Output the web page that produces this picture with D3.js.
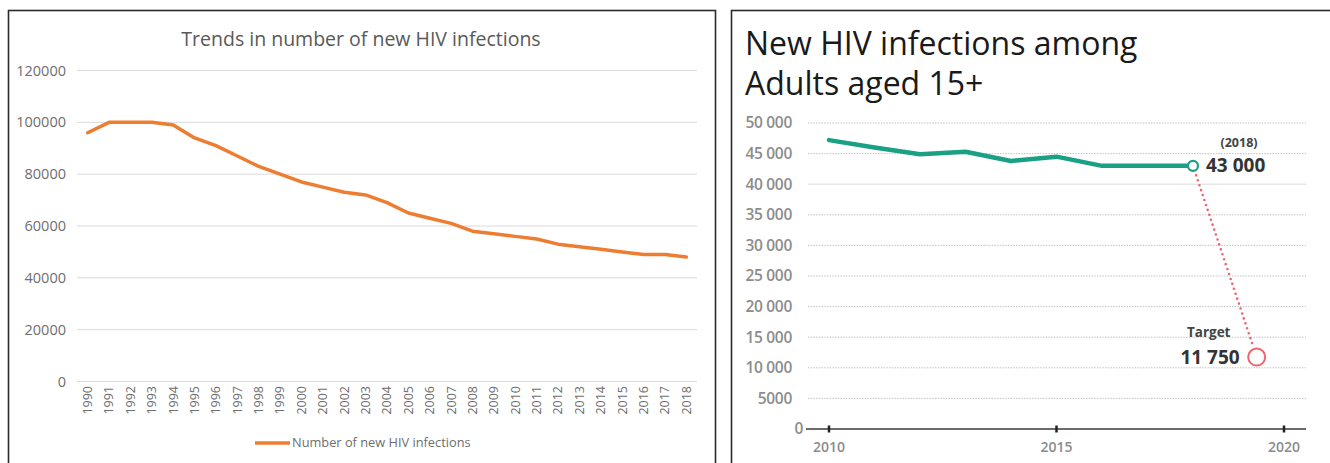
<!DOCTYPE html>
<html>
<head>
<meta charset="utf-8">
<script src="https://cdn.jsdelivr.net/npm/d3@7"></script>
<style>
  html, body { margin: 0; padding: 0; background: #fff; }
  svg { display: block; }
</style>
</head>
<body>
<svg id="chart" width="1330" height="463"></svg>
<script>
// Left panel: new HIV infections per year, 1990-2018
const years = [1990, 1991, 1992, 1993, 1994, 1995, 1996, 1997, 1998, 1999,
               2000, 2001, 2002, 2003, 2004, 2005, 2006, 2007, 2008, 2009,
               2010, 2011, 2012, 2013, 2014, 2015, 2016, 2017, 2018];
const newInfections = [96000, 100000, 100000, 100000, 99000, 94000, 91000, 87000, 83000, 80000,
                       77000, 75000, 73000, 72000, 69000, 65000, 63000, 61000, 58000, 57000,
                       56000, 55000, 53000, 52000, 51000, 50000, 49000, 49000, 48000];
const leftTicks = [0, 20000, 40000, 60000, 80000, 100000, 120000];

// Right panel: new infections among adults aged 15+, 2010-2018, and the target
const adultYears = [2010, 2011, 2012, 2013, 2014, 2015, 2016, 2017, 2018];
const adultInfections = [47200, 46000, 44900, 45300, 43800, 44500, 43000, 43000, 43000];
const targetYear = 2019.4;
const targetValue = 11750;
const rightTicks = [0, 5000, 10000, 15000, 20000, 25000, 30000, 35000, 40000, 45000, 50000];
const rightYearTicks = [2010, 2015, 2020];

const svg = d3.select("#chart");
svg.append("rect").attr("width", 1330).attr("height", 463).attr("fill", "#fff");

// ---------- Left panel ----------
const L = svg.append("g");
L.append("rect")
  .attr("x", 8.5).attr("y", 10.5).attr("width", 707).attr("height", 480)
  .attr("fill", "none").attr("stroke", "#2b2b2b").attr("stroke-width", 1.6);

const xL = d3.scaleBand().domain(years).range([77, 697]);
const yL = d3.scaleLinear().domain([0, 120000]).range([381.5, 70.5]);
const cx = d => xL(d) + xL.bandwidth() / 2;

L.append("text")
  .attr("x", 361).attr("y", 46)
  .attr("text-anchor", "middle")
  .attr("font-family", "'Open Sans', sans-serif")
  .attr("font-size", 19.5)
  .attr("fill", "#595959")
  .text("Trends in number of new HIV infections");

L.append("g").selectAll("line").data(leftTicks).join("line")
  .attr("x1", 77).attr("x2", 697)
  .attr("y1", d => yL(d)).attr("y2", d => yL(d))
  .attr("stroke", "#d9d9d9").attr("stroke-width", 1);

L.append("g").selectAll("text").data(leftTicks).join("text")
  .attr("x", 66).attr("y", d => yL(d))
  .attr("dy", "0.35em")
  .attr("text-anchor", "end")
  .attr("font-family", "'Open Sans', sans-serif")
  .attr("font-size", 14.5)
  .attr("fill", "#6e6e6e")
  .text(d => d);

L.append("g").selectAll("text").data(years).join("text")
  .attr("transform", d => `translate(${cx(d)},386) rotate(-90)`)
  .attr("dy", "0.35em")
  .attr("text-anchor", "end")
  .attr("font-family", "'Open Sans', sans-serif")
  .attr("font-size", 12.5)
  .attr("fill", "#6e6e6e")
  .text(d => d);

const leftLine = d3.line().x((d, i) => cx(years[i])).y(d => yL(d));
L.append("path")
  .datum(newInfections)
  .attr("d", leftLine)
  .attr("fill", "none")
  .attr("stroke", "#ED7D31")
  .attr("stroke-width", 3.5)
  .attr("stroke-linejoin", "round")
  .attr("stroke-linecap", "round");

// legend
L.append("line")
  .attr("x1", 255).attr("x2", 290).attr("y1", 443).attr("y2", 443)
  .attr("stroke", "#ED7D31").attr("stroke-width", 3.5);
L.append("text")
  .attr("x", 292).attr("y", 443).attr("dy", "0.35em")
  .attr("font-family", "'Open Sans', sans-serif")
  .attr("font-size", 12.8)
  .attr("fill", "#6e6e6e")
  .text("Number of new HIV infections");

// ---------- Right panel ----------
const R = svg.append("g");
R.append("rect")
  .attr("x", 731.5).attr("y", 10.5).attr("width", 640).attr("height", 480)
  .attr("fill", "none").attr("stroke", "#2b2b2b").attr("stroke-width", 1.6);

const titleLines = ["New HIV infections among", "Adults aged 15+"];
R.append("g").selectAll("text").data(titleLines).join("text")
  .attr("x", 745).attr("y", (d, i) => 55 + i * 40)
  .attr("font-family", "'Open Sans', sans-serif")
  .attr("font-size", 32)
  .attr("fill", "#1a1a1a")
  .text(d => d);

const xR = d3.scaleLinear().domain([2010, 2020]).range([829, 1284]);
const yR = d3.scaleLinear().domain([0, 50000]).range([429, 123]);

const spaced = d3.formatLocale({ decimal: ".", thousands: " ", grouping: [3], currency: ["", ""] }).format(",");
const yLabel = d => d >= 10000 ? spaced(d) : String(d);

// grid
R.append("g").selectAll("line").data(rightTicks.filter(d => d > 0)).join("line")
  .attr("x1", 808).attr("x2", 1306)
  .attr("y1", d => yR(d)).attr("y2", d => yR(d))
  .attr("stroke", d => d === 40000 ? "#e6e6e6" : "#c2c2c2")
  .attr("stroke-width", d => d === 40000 ? 1.6 : 1)
  .attr("stroke-dasharray", d => d === 40000 ? null : "1.5,1.2");

R.append("g").selectAll("text").data(rightTicks).join("text")
  .attr("x", d => d === 0 ? 803 : 792)
  .attr("y", d => yR(d))
  .attr("dy", "0.35em")
  .attr("text-anchor", "end")
  .attr("font-family", "'Open Sans', sans-serif")
  .attr("font-size", 15.5)
  .attr("font-weight", 600)
  .attr("letter-spacing", -0.3)
  .attr("fill", "#8c8c8c")
  .text(yLabel);

// x axis
R.append("line")
  .attr("x1", 806).attr("x2", 1306).attr("y1", yR(0)).attr("y2", yR(0))
  .attr("stroke", "#3a3a3a").attr("stroke-width", 1.5);
R.append("g").selectAll("line").data(rightYearTicks).join("line")
  .attr("x1", d => xR(d)).attr("x2", d => xR(d))
  .attr("y1", yR(0) - 3.5).attr("y2", yR(0) + 3.5)
  .attr("stroke", "#222").attr("stroke-width", 2.5);
R.append("g").selectAll("text").data(rightYearTicks).join("text")
  .attr("x", d => xR(d)).attr("y", 447).attr("dy", "0.35em")
  .attr("text-anchor", "middle")
  .attr("font-family", "'Open Sans', sans-serif")
  .attr("font-size", 14)
  .attr("font-weight", 600)
  .attr("fill", "#8c8c8c")
  .text(d => d);

const green = "#1aa085";
const red = "#ec6671";

const rightLine = d3.line().x((d, i) => xR(adultYears[i])).y(d => yR(d));
R.append("path")
  .datum(adultInfections)
  .attr("d", rightLine)
  .attr("fill", "none")
  .attr("stroke", green)
  .attr("stroke-width", 4.5)
  .attr("stroke-linejoin", "round")
  .attr("stroke-linecap", "round");

// dotted projection from the last value to the target
const lastYear = adultYears[adultYears.length - 1];
const lastValue = adultInfections[adultInfections.length - 1];
const p0 = [xR(lastYear), yR(lastValue)];
const p1 = [xR(targetYear), yR(targetValue)];
const len = Math.hypot(p1[0] - p0[0], p1[1] - p0[1]);
const ux = (p1[0] - p0[0]) / len, uy = (p1[1] - p0[1]) / len;
const r0 = 5, r1 = 8.5;
R.append("line")
  .attr("x1", p0[0] + ux * (r0 + 5)).attr("y1", p0[1] + uy * (r0 + 5))
  .attr("x2", p1[0] - ux * (r1 + 3)).attr("y2", p1[1] - uy * (r1 + 3))
  .attr("stroke", red).attr("stroke-width", 2.6)
  .attr("stroke-linecap", "round")
  .attr("stroke-dasharray", "0,5.2");

R.append("circle")
  .attr("cx", p0[0]).attr("cy", p0[1]).attr("r", r0)
  .attr("fill", "#fff").attr("stroke", green).attr("stroke-width", 2.2);
R.append("circle")
  .attr("cx", p1[0]).attr("cy", p1[1]).attr("r", r1)
  .attr("fill", "#fff").attr("stroke", red).attr("stroke-width", 2);

// annotations
R.append("text")
  .attr("x", p0[0] + 46).attr("y", 147)
  .attr("text-anchor", "middle")
  .attr("font-family", "'Open Sans', sans-serif")
  .attr("font-size", 12.5).attr("font-weight", 700)
  .attr("fill", "#444")
  .text(`(${lastYear})`);
R.append("text")
  .attr("x", p0[0] + 13).attr("y", p0[1]).attr("dy", "0.35em")
  .attr("font-family", "'Open Sans', sans-serif")
  .attr("font-size", 19).attr("font-weight", 700)
  .attr("fill", "#333")
  .text(spaced(lastValue));
R.append("text")
  .attr("x", p1[0] - 48).attr("y", 337)
  .attr("text-anchor", "middle")
  .attr("font-family", "'Open Sans', sans-serif")
  .attr("font-size", 13.5).attr("font-weight", 700)
  .attr("fill", "#444")
  .text("Target");
R.append("text")
  .attr("x", p1[0] - 17).attr("y", p1[1]).attr("dy", "0.35em")
  .attr("text-anchor", "end")
  .attr("font-family", "'Open Sans', sans-serif")
  .attr("font-size", 19).attr("font-weight", 700)
  .attr("fill", "#333")
  .text(spaced(targetValue));
</script>
</body>
</html>
